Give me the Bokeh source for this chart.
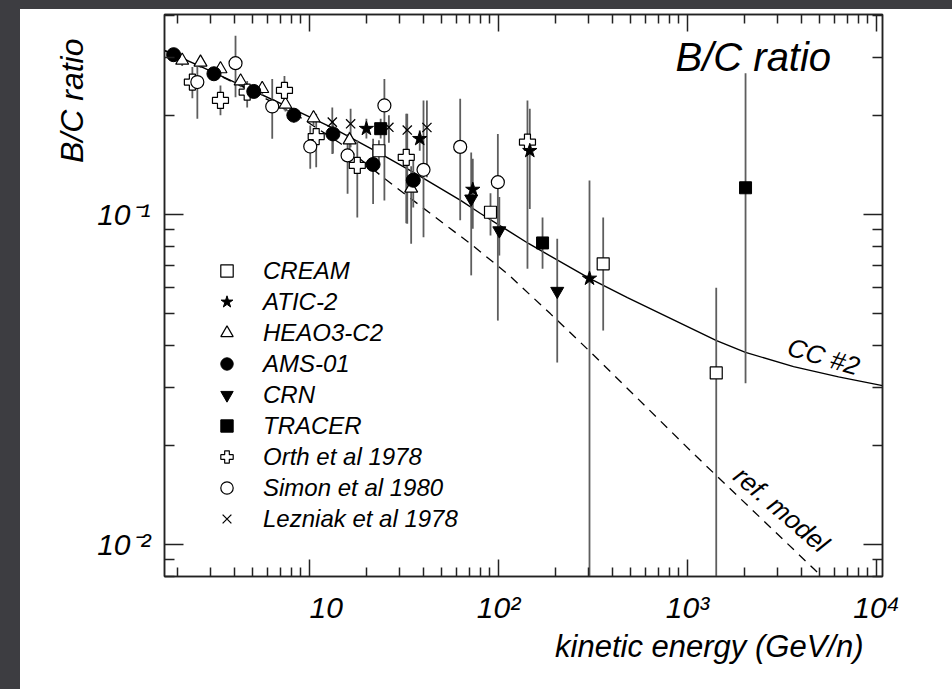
import math
from bokeh.plotting import figure
from bokeh.models import (Range1d, LogAxis, FixedTicker, Label, Legend, LegendItem, Spacer, Title)
from bokeh.layouts import column, row
from bokeh.embed import file_html
from bokeh.resources import INLINE

FONT = "Liberation Sans"

# ---------------- measurements: kinetic energy (GeV/n), B/C ratio, error band ----------------
cream_e = [23.3, 90.7, 358, 1419]
cream_r = [0.156, 0.1016, 0.0709, 0.0331]
cream_lo = [0.145, 0.0864, 0.0445, 0.005]
cream_hi = [0.168, 0.116, 0.098, 0.060]

atic_e = [20.0, 38.3, 73.1, 146.4, 303]
atic_r = [0.182, 0.1696, 0.119, 0.156, 0.064]
atic_lo = [0.170, 0.156, 0.0905, 0.104, 0.005]
atic_hi = [0.195, 0.180, 0.1475, 0.209, 0.1268]

heao_e = [2.12, 2.65, 3.38, 4.32, 5.62, 7.46, 10.5, 16.3, 34.5]
heao_r = [0.293, 0.289, 0.276, 0.2535, 0.2405, 0.2155, 0.196, 0.168, 0.120]
heao_lo = [0.282, 0.278, 0.265, 0.243, 0.230, 0.205, 0.186, 0.158, 0.0815]
heao_hi = [0.304, 0.300, 0.287, 0.264, 0.251, 0.226, 0.206, 0.178, 0.140]

ams_e = [1.91, 3.12, 5.07, 8.26, 13.3, 21.7, 35.4]
ams_r = [0.305, 0.267, 0.236, 0.200, 0.1755, 0.1418, 0.127]
ams_lo = [0.295, 0.258, 0.226, 0.190, 0.153, 0.1077, 0.105]
ams_hi = [0.315, 0.276, 0.246, 0.210, 0.193, 0.1696, 0.150]

crn_e = [71.7, 101, 204.5]
crn_r = [0.1116, 0.0894, 0.0586]
crn_lo = [0.0654, 0.0751, 0.0356]
crn_hi = [0.154, 0.113, 0.0844]

tracer_e = [23.8, 171, 2028]
tracer_r = [0.182, 0.082, 0.1205]
tracer_lo = [0.170, 0.0685, 0.0308]
tracer_hi = [0.195, 0.098, 0.268]

orth_e = [2.40, 3.38, 4.68, 7.37, 10.85, 17.9, 32.5, 142.3]
orth_r = [0.252, 0.2216, 0.2348, 0.2376, 0.1723, 0.1408, 0.149, 0.1656]
orth_lo = [0.225, 0.200, 0.211, 0.207, 0.139, 0.098, 0.094, 0.0685]
orth_hi = [0.280, 0.246, 0.254, 0.263, 0.202, 0.1675, 0.202, 0.2215]

simon_e = [2.55, 4.06, 6.35, 10.09, 15.9, 24.9, 40.1, 62.7, 99.2]
simon_r = [0.252, 0.2874, 0.2125, 0.1607, 0.151, 0.214, 0.1366, 0.1603, 0.1253]
simon_lo = [0.195, 0.2266, 0.1696, 0.1375, 0.1155, 0.1103, 0.0854, 0.096, 0.0477]
simon_hi = [0.280, 0.348, 0.2576, 0.186, 0.1755, 0.2576, 0.2215, 0.2243, 0.1755]

lezniak_e = [13.2, 16.5, 26.3, 32.9, 41.8]
lezniak_r = [0.1905, 0.1883, 0.1838, 0.1803, 0.1835]
lezniak_lo = [0.1526, 0.160, 0.165, 0.0937, 0.1297]
lezniak_hi = [0.211, 0.209, 0.200, 0.202, 0.2215]

# ---------------- model curves ----------------
cc2_e = [1.71, 2.65, 4.87, 8.96, 13.4, 23.8, 35.5, 63, 80.3, 144, 303, 481, 1424, 2027,
         3640, 6295, 10760]
cc2_r = [0.314, 0.2809, 0.2392, 0.2037, 0.1823, 0.1527, 0.1341, 0.1103, 0.1007, 0.0817,
         0.064, 0.056, 0.0415, 0.0382, 0.0346, 0.0322, 0.0303]

ref_e = [1.71, 2.65, 4.87, 8.96, 14.6, 24.6, 43.6, 71.1, 111.6, 188.4, 306.8, 1102, 4656, 6067]
ref_r = [0.314, 0.2809, 0.2376, 0.1968, 0.1641, 0.1294, 0.1007, 0.0815, 0.0661, 0.0500,
         0.0383, 0.0186, 0.00844, 0.00731]

# ---------------- axis ticks ----------------
x_major = [10, 100, 1000, 10000]
x_minor = [m * 10 ** k for k in range(0, 4) for m in range(2, 10)]
x_labels = {10: "\u2007\u200710", 100: "10\u00b2", 1000: "10\u00b3", 10000: "10\u2074"}
y_major = [0.01, 0.1]
y_minor = [m * 10.0 ** k for k in (-3, -2, -1) for m in range(2, 10)]
y_labels = {0.01: "10\u207b\u00b2", 0.1: "10\u207b\u00b9"}

p = figure(width=932, height=680, x_axis_type="log", y_axis_type="log",
           x_range=Range1d(1.709, 10757), y_range=Range1d(0.0080, 0.4037),
           output_backend="svg", toolbar_location=None,
           min_border_left=144, min_border_right=70, min_border_top=5, min_border_bottom=113)
p.background_fill_color = "white"
p.border_fill_color = "white"
p.outline_line_color = "#222222"
p.outline_line_width = 1.5
p.grid.visible = False

INK = "#222222"


def style_axis(ax, ticks, minor, major_in, minor_in, labels):
    ax.ticker = FixedTicker(ticks=ticks, minor_ticks=minor)
    ax.axis_line_color = INK
    ax.axis_line_width = 1.5
    ax.major_tick_line_color = INK
    ax.minor_tick_line_color = INK
    ax.major_tick_line_width = 1.5
    ax.minor_tick_line_width = 1.5
    ax.major_tick_in = major_in
    ax.major_tick_out = 0
    ax.minor_tick_in = minor_in
    ax.minor_tick_out = 0
    if labels is None:
        # mirrored frame ticks only
        ax.major_label_text_font_size = "1px"
        ax.major_label_text_alpha = 0
        ax.major_label_standoff = 0
    else:
        ax.major_label_overrides = labels
        ax.major_label_text_font = FONT
        ax.major_label_text_font_style = "italic"
        ax.major_label_text_font_size = "30px"
        ax.major_label_text_color = "black"
        ax.major_label_standoff = 14


style_axis(p.xaxis[0], x_major, x_minor, 17, 9, x_labels)
style_axis(p.yaxis[0], y_major, y_minor, 19, 10, y_labels)
top = LogAxis()
right = LogAxis()
p.add_layout(top, "above")
p.add_layout(right, "right")
style_axis(top, x_major, x_minor, 17, 9, None)
style_axis(right, y_major, y_minor, 19, 10, None)

# axis titles, placed at the outer ends of the axes
p.add_layout(Title(text="kinetic energy (GeV/n)", align="right", offset=19, standoff=0,
                   text_font=FONT, text_font_style="italic", text_font_size="31px",
                   text_color="black"), "below")
p.add_layout(Title(text="B/C ratio", align="right", offset=24, standoff=10,
                   text_font=FONT, text_font_style="italic", text_font_size="32px",
                   text_color="black"), "left")

# ---------------- curves ----------------
p.line(cc2_e, cc2_r, line_color="black", line_width=1.4)
p.line(ref_e, ref_r, line_color="black", line_width=1.3, line_dash="9 7")

# ---------------- error bars ----------------
BAR = "#5e5e5e"
for e, lo, hi in [(heao_e, heao_lo, heao_hi), (orth_e, orth_lo, orth_hi),
                  (simon_e, simon_lo, simon_hi), (lezniak_e, lezniak_lo, lezniak_hi),
                  (ams_e, ams_lo, ams_hi), (cream_e, cream_lo, cream_hi),
                  (atic_e, atic_lo, atic_hi), (crn_e, crn_lo, crn_hi),
                  (tracer_e, tracer_lo, tracer_hi)]:
    p.segment(x0=e, y0=lo, x1=e, y1=hi, line_color=BAR, line_width=1.8)

# ---------------- markers ----------------
r_heao = p.scatter(heao_e, heao_r, marker="triangle", size=13, fill_color="white",
                   line_color="black", line_width=1.2)
r_orth = p.scatter(orth_e, orth_r, marker="plus", size=16, fill_color="white",
                   line_color="black", line_width=1.2)
r_simon = p.scatter(simon_e, simon_r, marker="circle", size=13, fill_color="white",
                    line_color="black", line_width=1.2)
r_lez = p.scatter(lezniak_e, lezniak_r, marker="x", size=13, line_color="black", line_width=1.3)
r_ams = p.scatter(ams_e, ams_r, marker="circle", size=14, fill_color="black", line_color="black")
r_cream = p.scatter(cream_e, cream_r, marker="square", size=12, fill_color="white",
                    line_color="black", line_width=1.2)
r_atic = p.scatter(atic_e, atic_r, marker="star", size=15, fill_color="black", line_color="black")
r_crn = p.scatter(crn_e, crn_r, marker="inverted_triangle", size=13, fill_color="black",
                  line_color="black")
r_tracer = p.scatter(tracer_e, tracer_r, marker="square", size=12, fill_color="black",
                     line_color="black")

legend = Legend(items=[
    LegendItem(label="CREAM", renderers=[r_cream]),
    LegendItem(label="ATIC-2", renderers=[r_atic]),
    LegendItem(label="HEAO3-C2", renderers=[r_heao]),
    LegendItem(label="AMS-01", renderers=[r_ams]),
    LegendItem(label="CRN", renderers=[r_crn]),
    LegendItem(label="TRACER", renderers=[r_tracer]),
    LegendItem(label="Orth et al 1978", renderers=[r_orth]),
    LegendItem(label="Simon et al 1980", renderers=[r_simon]),
    LegendItem(label="Lezniak et al 1978", renderers=[r_lez]),
], location=(47, 42))
legend.border_line_color = None
legend.background_fill_alpha = 0
legend.label_text_font = FONT
legend.label_text_font_style = "italic"
legend.label_text_font_size = "24px"
legend.label_text_color = "black"
legend.glyph_width = 31
legend.glyph_height = 31
legend.label_height = 31
legend.spacing = 0
legend.padding = 0
legend.margin = 0
legend.label_standoff = 21
p.add_layout(legend)


def add_text(x, y, text, size, angle=0.0, align="center"):
    p.add_layout(Label(x=x, y=y, text=text, angle=angle, text_font=FONT,
                       text_font_style="italic", text_font_size=size, text_color="black",
                       text_align=align, text_baseline="middle"))


# ---------------- texts inside the frame ----------------
add_text(864, 0.2991, "B/C ratio", "40px", align="left")
add_text(5244, 0.03712, "CC #2", "26px", angle=-0.29)
add_text(3141, 0.01276, "ref. model", "26px", angle=-0.71)

bg = {"background-color": "#3d3d41"}
page = column(Spacer(width=952, height=9, styles=bg),
              row(Spacer(width=20, height=680, styles=bg), p))

open("out.html", "w").write(file_html(page, INLINE))
